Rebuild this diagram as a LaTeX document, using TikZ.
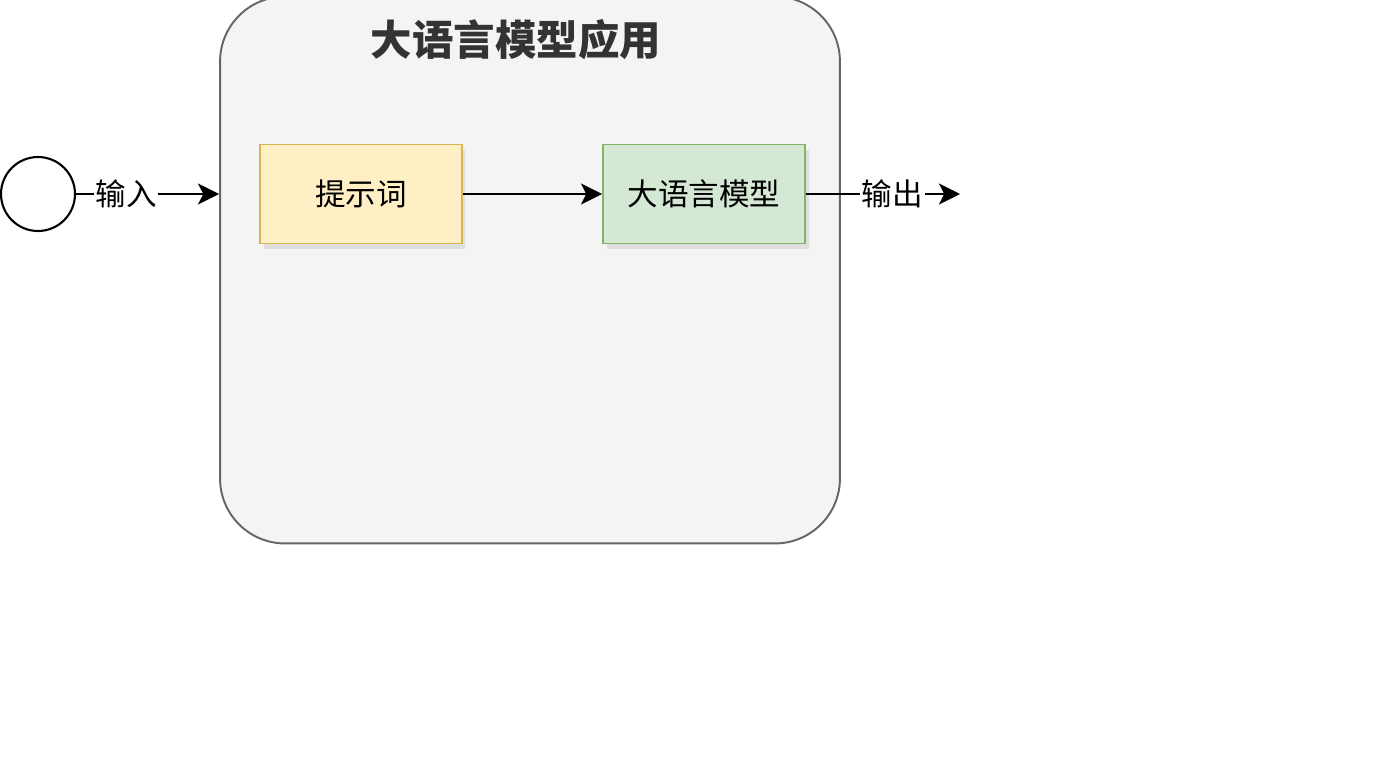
\documentclass[tikz,border=0pt]{standalone}
\usepackage{fontspec}
\setmainfont{Noto Sans CJK SC}
\usetikzlibrary{arrows.meta,shadows}
\definecolor{appfill}{HTML}{F4F4F4}
\definecolor{appline}{HTML}{666666}
\definecolor{promptfill}{HTML}{FFEFC4}
\definecolor{promptline}{HTML}{D6B656}
\definecolor{llmfill}{HTML}{D5E8D4}
\definecolor{llmline}{HTML}{82B366}
\newcommand{\md}{\fontsize{17.4}{20}\selectfont}

\begin{document}
\begin{tikzpicture}[
  x=0.02cm, y=-0.02cm,
  >={Stealth[length=12pt, width=12pt, inset=3pt]},
  box/.style={draw, line width=1.1pt, minimum width=4.04cm, minimum height=1.98cm, font=\md,
    drop shadow={shadow xshift=2pt, shadow yshift=-3pt, opacity=0.18}},
  prompt/.style={box, fill=promptfill, draw=promptline},
  llm/.style={box, fill=llmfill, draw=llmline},
  app/.style={draw=appline, fill=appfill, line width=1.1pt, rounded corners=1.3cm,
    minimum width=12.4cm, minimum height=10.94cm},
  lbl/.style={font=\md, fill=white, inner sep=1pt},
  flow/.style={->, line width=1.2pt},
]
  \useasboundingbox (0,0) rectangle (1376,768);

  \node[app] (app) at (530,270) {};
  \node[font=\fontsize{23.6}{27}\selectfont\bfseries, text=black!80] (title) at (516,40) {大语言模型应用};

  \node[draw, circle, line width=1.2pt, minimum size=1.48cm, inner sep=0pt] (start) at (38,194) {};
  \node[prompt] (prompt) at (361,194) {提示词};
  \node[llm] (llm) at (704,194) {大语言模型};
  \coordinate (out) at (960,194);

  % input enters the application, output leaves the model
  \draw[flow] (start.east) -- node[lbl, pos=0.35] {输入} (app.west |- start);
  \draw[flow] (prompt) -- (llm);
  \draw[flow] (llm.east) -- node[lbl, pos=0.56] {输出} (out);
\end{tikzpicture}
\end{document}
